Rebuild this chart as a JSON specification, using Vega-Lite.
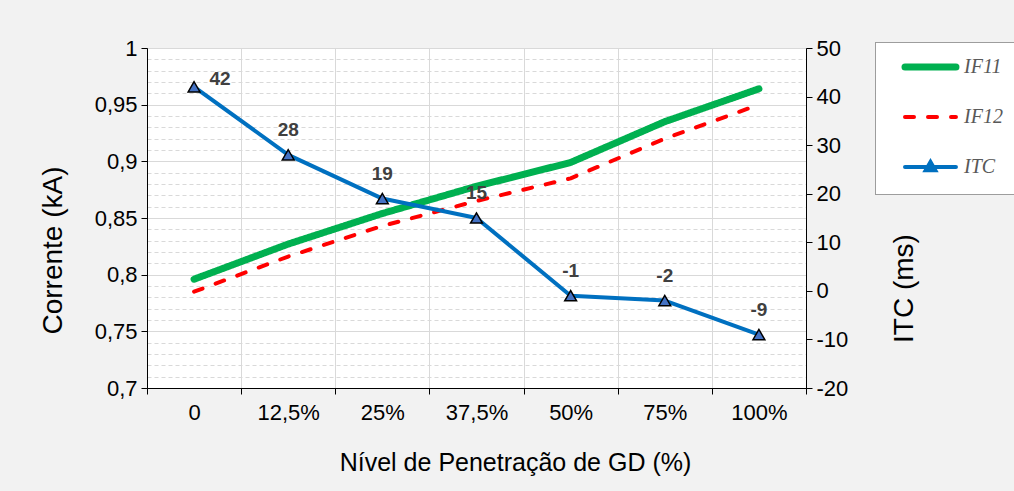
{
  "$schema": "https://vega.github.io/schema/vega-lite/v6.json",
  "autosize": {"type": "none"},
  "padding": {"left": 147, "top": 48, "right": 208, "bottom": 103},
  "width": 659,
  "height": 340,
  "background": "#f2f2f2",
  "config": {
    "view": {"stroke": "#000000", "strokeWidth": 1, "fill": "white"},
    "font": "Liberation Sans",
    "axis": {"labelFont": "Liberation Sans", "titleFont": "Liberation Sans", "titleFontWeight": "normal", "labelColor": "#000000", "titleColor": "#000000", "domainColor": "#000000", "tickColor": "#000000"}
  },
  "datasets": {
    "ifs": [
      {"cat": "0", "series": "IF11", "value": 0.796},
      {"cat": "12,5%", "series": "IF11", "value": 0.827},
      {"cat": "25%", "series": "IF11", "value": 0.854},
      {"cat": "37,5%", "series": "IF11", "value": 0.878},
      {"cat": "50%", "series": "IF11", "value": 0.899},
      {"cat": "75%", "series": "IF11", "value": 0.935},
      {"cat": "100%", "series": "IF11", "value": 0.964},
      {"cat": "0", "series": "IF12", "value": 0.785},
      {"cat": "12,5%", "series": "IF12", "value": 0.816},
      {"cat": "25%", "series": "IF12", "value": 0.843},
      {"cat": "37,5%", "series": "IF12", "value": 0.865},
      {"cat": "50%", "series": "IF12", "value": 0.885},
      {"cat": "75%", "series": "IF12", "value": 0.920},
      {"cat": "100%", "series": "IF12", "value": 0.950}
    ],
    "itc": [
      {"cat": "0", "series": "ITC", "value": 42},
      {"cat": "12,5%", "series": "ITC", "value": 28},
      {"cat": "25%", "series": "ITC", "value": 19},
      {"cat": "37,5%", "series": "ITC", "value": 15},
      {"cat": "50%", "series": "ITC", "value": -1},
      {"cat": "75%", "series": "ITC", "value": -2},
      {"cat": "100%", "series": "ITC", "value": -9}
    ]
  },
  "encoding": {
    "x": {
      "field": "cat", "type": "ordinal",
      "sort": ["0", "12,5%", "25%", "37,5%", "50%", "75%", "100%"],
      "scale": {"type": "band", "paddingInner": 0, "paddingOuter": 0},
      "axis": {
        "title": "Nível de Penetração de GD (%)",
        "titleFontSize": 25, "titleX": 368, "titleY": 74, "titleBaseline": "middle", "titleAlign": "center",
        "labelAngle": 0, "labelFontSize": 22, "labelPadding": 8,
        "tickBand": "extent", "tickSize": 6,
        "grid": true, "gridColor": "#d9d9d9"
      }
    }
  },
  "layer": [
    {
      "data": {"name": "ifs"},
      "mark": {"type": "line", "interpolate": "linear", "strokeCap": "round", "strokeJoin": "round"},
      "encoding": {
        "y": {
          "field": "value", "type": "quantitative",
          "scale": {"domain": [0.7, 1.0], "nice": false, "zero": false},
          "axis": {
            "title": "Corrente (kA)", "titleFontSize": 28,
            "titleX": -94, "titleY": 202, "titleBaseline": "middle", "titleAlign": "center", "titleAngle": -90,
            "values": [0.7, 0.71, 0.72, 0.73, 0.74, 0.75, 0.76, 0.77, 0.78, 0.79, 0.8, 0.81, 0.82, 0.83, 0.84, 0.85, 0.86, 0.87, 0.88, 0.89, 0.9, 0.91, 0.92, 0.93, 0.94, 0.95, 0.96, 0.97, 0.98, 0.99, 1.0],
            "labelExpr": "abs(datum.value*20 - round(datum.value*20)) < 0.001 ? replace(format(datum.value, '.2~f'), '.', ',') : ''",
            "labelFontSize": 22, "labelPadding": 4, "tickSize": 6,
            "tickOpacity": {"condition": {"test": "abs(datum.value*20 - round(datum.value*20)) < 0.001", "value": 1}, "value": 0},
            "grid": true,
            "gridColor": "#d9d9d9",
            "gridDash": {"condition": {"test": "abs(datum.value*20 - round(datum.value*20)) < 0.001", "value": []}, "value": [4, 3]}
          }
        },
        "color": {
          "field": "series", "type": "nominal",
          "scale": {"domain": ["IF11", "IF12", "ITC"], "range": ["#00b050", "#ff0000", "#0070c0"]},
          "legend": {
            "title": null, "orient": "none", "legendX": 728, "legendY": -6,
            "padding": 15, "symbolOffset": 19, "symbolSize": 784, "rowPadding": 26, "labelOffset": 35,
            "labelFont": "Liberation Serif", "labelFontStyle": "italic", "labelFontSize": 20, "labelColor": "#595959",
            "fillColor": "white", "strokeColor": "#404040",
            "symbolType": "M-1,0H2.64",
            "encode": {
              "legend": {"update": {"strokeDash": {"value": [1, 1]}}},
              "symbols": {
                "update": {
                  "shape": {"signal": "datum.value === 'ITC' ? 'M-1,0H2.64M0.82,-0.36L1.16,0.24L0.48,0.24Z' : 'M-1,0H2.64'"},
                  "fill": {"signal": "datum.value === 'ITC' ? '#4472c4' : 'transparent'"},
                  "strokeWidth": {"signal": "datum.value === 'IF11' ? 7 : 4"},
                  "strokeDash": {"signal": "datum.value === 'IF12' ? [9, 14] : []"},
                  "strokeCap": {"value": "round"},
                  "opacity": {"value": 1}
                }
              }
            }
          }
        },
        "strokeWidth": {"condition": {"test": "datum.series === 'IF11'", "value": 7}, "value": 4},
        "strokeDash": {"condition": {"test": "datum.series === 'IF12'", "value": [9, 14]}, "value": [1, 0]}
      }
    },
    {
      "data": {"name": "itc"},
      "encoding": {
        "y": {
          "field": "value", "type": "quantitative",
          "scale": {"domain": [-20, 50], "nice": false, "zero": false}
        }
      },
      "layer": [
        {
          "mark": {"type": "line", "interpolate": "linear", "strokeWidth": 4, "strokeJoin": "round"},
          "encoding": {
            "color": {"field": "series", "type": "nominal"},
            "y": {
              "field": "value", "type": "quantitative",
              "axis": {
                "orient": "right",
                "title": "ITC (ms)", "titleFontSize": 28,
                "titleX": 98, "titleY": 240, "titleBaseline": "middle", "titleAlign": "center", "titleAngle": -90,
                "values": [-20, -10, 0, 10, 20, 30, 40, 50],
                "labelExpr": "toString(datum.value)",
                "labelFontSize": 22, "labelPadding": 4, "tickSize": 6, "grid": false
              }
            }
          }
        },
        {
          "mark": {"type": "point", "shape": "triangle-up", "size": 140, "filled": true, "fill": "#4472c4", "stroke": "#000000", "strokeWidth": 1.5, "opacity": 1},
          "encoding": {"y": {"field": "value", "type": "quantitative"}}
        },
        {
          "transform": [{"filter": "datum.cat !== '0'"}],
          "mark": {"type": "text", "dy": -25, "fontWeight": "bold", "fontSize": 19, "color": "#404040"},
          "encoding": {"y": {"field": "value", "type": "quantitative"}, "text": {"field": "value", "type": "nominal"}}
        },
        {
          "transform": [{"filter": "datum.cat === '0'"}],
          "mark": {"type": "text", "dx": 26, "dy": -8, "fontWeight": "bold", "fontSize": 19, "color": "#404040"},
          "encoding": {"y": {"field": "value", "type": "quantitative"}, "text": {"field": "value", "type": "nominal"}}
        }
      ]
    }
  ],
  "resolve": {"scale": {"y": "independent"}}
}
